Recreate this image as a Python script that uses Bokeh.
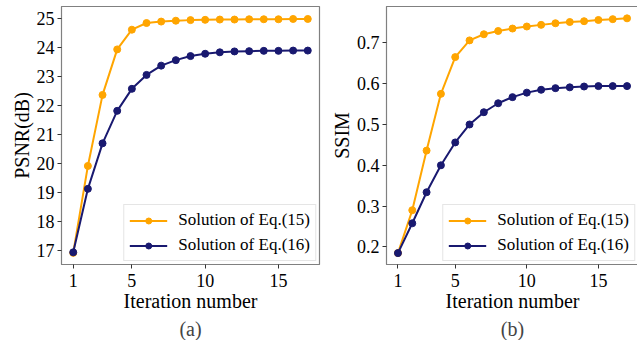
from bokeh.plotting import figure
from bokeh.layouts import row
from bokeh.models import Range1d, FixedTicker, Legend, LegendItem, Title
from bokeh.embed import file_html
from bokeh.resources import INLINE

iterations = list(range(1, 18))
psnr_eq15 = [16.90, 19.90, 22.35, 23.92, 24.60, 24.83, 24.88, 24.91, 24.93, 24.94,
             24.95, 24.95, 24.96, 24.96, 24.96, 24.97, 24.97]
psnr_eq16 = [16.92, 19.11, 20.68, 21.80, 22.56, 23.04, 23.36, 23.55, 23.69, 23.77,
             23.82, 23.85, 23.86, 23.87, 23.87, 23.88, 23.88]
ssim_eq15 = [0.185, 0.290, 0.436, 0.575, 0.665, 0.706, 0.721, 0.729, 0.735, 0.740,
             0.744, 0.748, 0.751, 0.753, 0.756, 0.758, 0.760]
ssim_eq16 = [0.185, 0.258, 0.334, 0.400, 0.456, 0.500, 0.530, 0.552, 0.567, 0.578,
             0.585, 0.589, 0.591, 0.593, 0.594, 0.594, 0.594]
x_ticks = [1, 5, 10, 15]
psnr_ticks = [17, 18, 19, 20, 21, 22, 23, 24, 25]
ssim_ticks = [0.2, 0.3, 0.4, 0.5, 0.6, 0.7]
labels = ["Solution of Eq.(15)", "Solution of Eq.(16)"]
colors = ["#FFA500", "#191970"]

FONT = "Liberation Serif"


def make_panel(y15, y16, yrange, yticks, ylabel, caption, fw, fh, bl, br, bt):
    p = figure(frame_width=fw, frame_height=fh, output_backend="svg",
               toolbar_location=None, x_range=Range1d(0.2, 17.8),
               y_range=Range1d(*yrange), min_border_left=bl, min_border_right=br,
               min_border_top=bt, min_border_bottom=0)
    p.xgrid.visible = False
    p.ygrid.visible = False
    p.outline_line_color = "#808080"
    p.outline_line_width = 1.2
    p.background_fill_color = "white"
    p.border_fill_color = "white"

    items = []
    for ys, c, lab in zip([y15, y16], colors, labels):
        l = p.line(iterations, ys, line_color=c, line_width=2)
        s = p.scatter(iterations, ys, size=7, fill_color=c, line_color=c)
        items.append(LegendItem(label=lab, renderers=[l, s]))

    for ax in (p.xaxis[0], p.yaxis[0]):
        ax.axis_line_color = "#808080"
        ax.major_tick_line_color = "#333333"
        ax.major_tick_out = 4
        ax.major_tick_in = 0
        ax.minor_tick_out = 0
        ax.minor_tick_in = 0
        ax.major_label_text_font = FONT
        ax.major_label_text_font_size = "18px"
        ax.major_label_text_color = "black"
        ax.axis_label_text_font = FONT
        ax.axis_label_text_font_size = "20px"
        ax.axis_label_text_font_style = "normal"
        ax.axis_label_text_color = "black"
    p.xaxis[0].ticker = FixedTicker(ticks=x_ticks)
    p.yaxis[0].ticker = FixedTicker(ticks=yticks)
    p.xaxis[0].axis_label = "Iteration number"
    p.yaxis[0].axis_label = ylabel
    p.xaxis[0].major_label_standoff = 5
    p.xaxis[0].axis_label_standoff = 0
    p.yaxis[0].major_label_standoff = 3
    p.yaxis[0].axis_label_standoff = 1

    legend = Legend(items=items,
                    location="bottom_right", label_text_font=FONT,
                    label_text_font_size="17px", label_text_color="black",
                    glyph_width=38, glyph_height=15,
                    label_standoff=11, spacing=5, padding=5, margin=3,
                    border_line_color="#cccccc", border_line_width=1,
                    background_fill_alpha=0.85)
    p.add_layout(legend)

    t = Title(text=caption, align="center", text_font=FONT, text_font_size="20px",
              text_font_style="normal", text_line_height=1.5, standoff=2, offset=0)
    p.add_layout(t, "below")
    return p


p1 = make_panel(psnr_eq15, psnr_eq16, (16.5, 25.4), psnr_ticks, "PSNR(dB)", "(a)",
                258, 258, 61, 8, 6)
p2 = make_panel(ssim_eq15, ssim_eq16, (0.157, 0.789), ssim_ticks, "SSIM", "(b)",
                252, 258, 54, 4, 6)

layout = row(p1, p2)
open("out.html", "w").write(file_html(layout, INLINE))
